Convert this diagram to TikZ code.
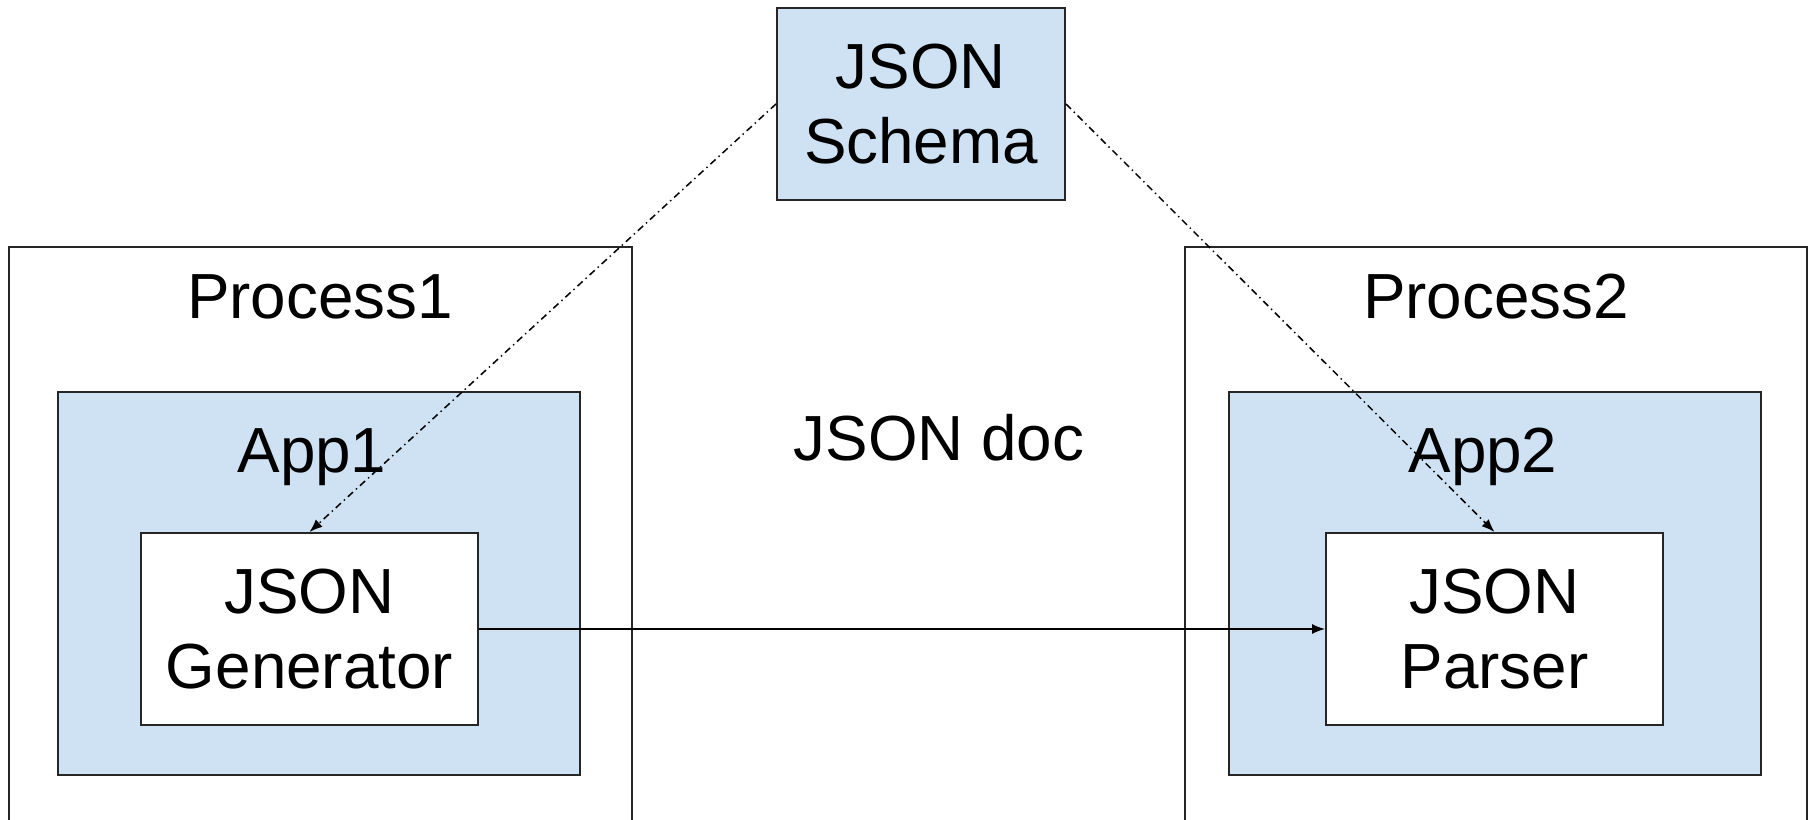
\documentclass[tikz,border=0pt]{standalone}
\usepackage{fontspec}
\setmainfont{Liberation Sans}
\usetikzlibrary{arrows.meta}
\definecolor{appblue}{HTML}{CFE2F3}
\begin{document}
\begin{tikzpicture}[x=0.5bp, y=-0.5bp,
    every node/.style={font=\fontsize{32}{37.5}\selectfont},
    frame/.style={draw=black!85, line width=1bp, inner sep=0pt},
    appbox/.style={frame, fill=appblue},
    partbox/.style={frame, fill=white, align=center,
      minimum width=168.5bp, minimum height=96bp},
    schemalink/.style={-{Latex[length=6.5bp,width=5bp]}, line width=0.75bp,
      dash pattern=on 3.5bp off 2bp on 0.7bp off 2bp},
    doclink/.style={-{Latex[length=6.5bp,width=5bp]}, line width=0.7bp}]
    \useasboundingbox [fill=white] (0, 0) rectangle (1813, 820);

    % processes, open at the bottom
    \node [frame, minimum width=311.5bp, minimum height=326.5bp] (process1) at (320.5, 573.5) {};
    \node [frame, minimum width=311bp, minimum height=326.5bp] (process2) at (1496, 573.5) {};
    \node [anchor=base] (process1label) at (320, 318) {Process1};
    \node [anchor=base] (process2label) at (1496, 318) {Process2};

    % applications
    \node [appbox, minimum width=261bp, minimum height=191.5bp] (app1) at (319, 583.5) {};
    \node [appbox, minimum width=266bp, minimum height=191.5bp] (app2) at (1495, 583.5) {};
    \node [anchor=base] (app1label) at (312, 472) {App1};
    \node [anchor=base] (app2label) at (1483, 472) {App2};

    \node [partbox] (generator) at (309.5, 629) {JSON\\Generator};
    \node [partbox] (parser) at (1494.5, 629) {JSON\\Parser};

    \node [appbox, align=center, minimum width=144bp, minimum height=96bp] (schema) at (921, 104) {JSON\\Schema};
    \node [anchor=base] (doc) at (939, 460) {JSON doc};

    \draw [schemalink] (schema.west) -- (generator.north);
    \draw [schemalink] (schema.east) -- (parser.north);
    \draw [doclink] (generator.east) -- (parser.west);
  \end{tikzpicture}
\end{document}
